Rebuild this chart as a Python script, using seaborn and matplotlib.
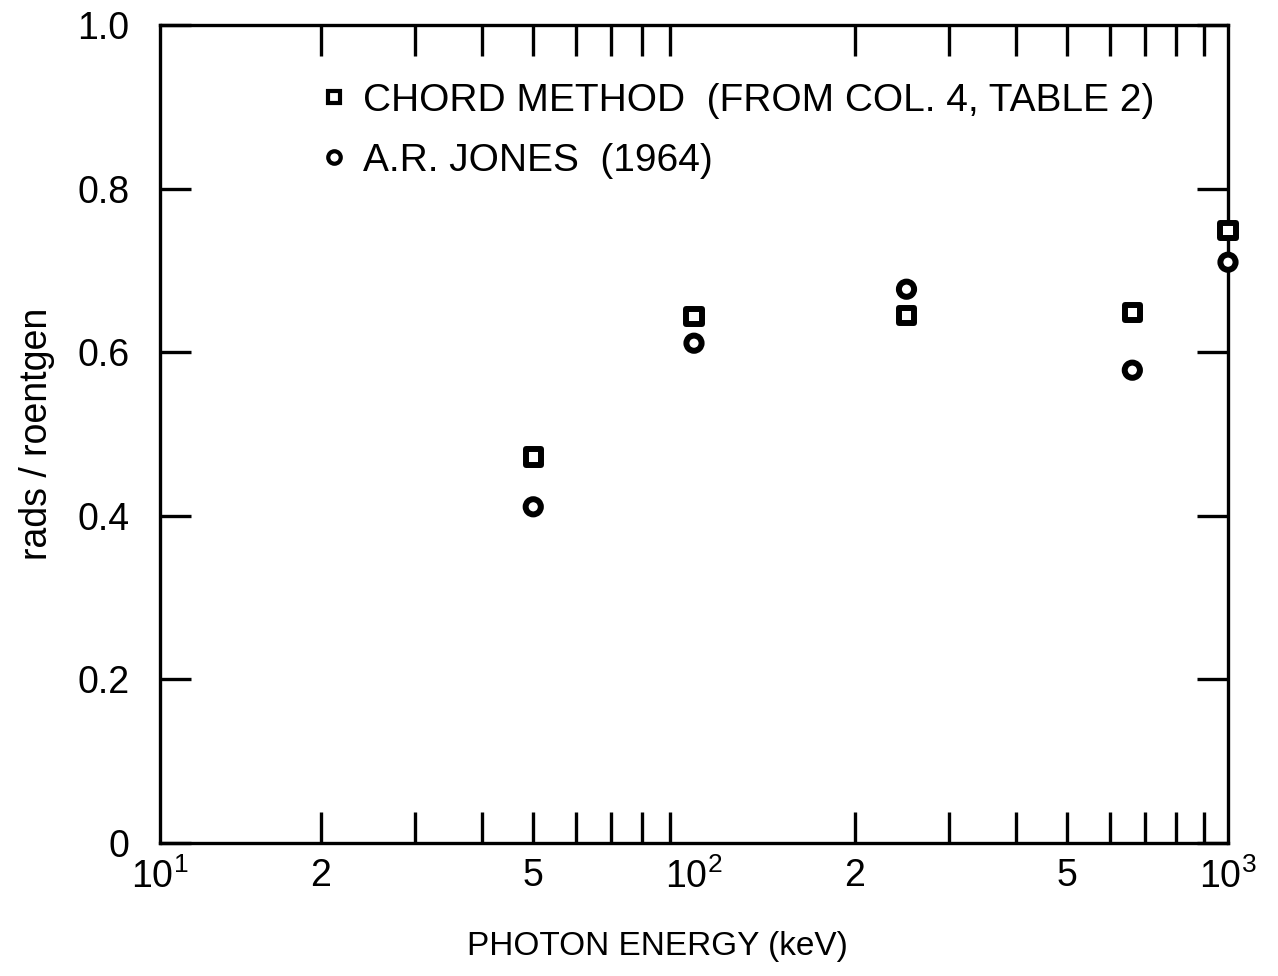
import matplotlib
matplotlib.use("Agg")
import matplotlib.pyplot as plt
import seaborn as sns
import pandas as pd
from matplotlib.lines import Line2D

# ---- data ----
energy_kev = [50, 100, 250, 662, 1000]
chord_method = [0.472, 0.644, 0.645, 0.649, 0.749]
jones_1964 = [0.411, 0.611, 0.677, 0.578, 0.710]

series_names = ["CHORD METHOD  (FROM COL. 4, TABLE 2)", "A.R. JONES  (1964)"]

xtick_vals = [10, 20, 50, 100, 200, 500, 1000]
xtick_labels = [r"$\mathregular{10^1}$", "2", "5", r"$\mathregular{10^2}$", "2", "5", r"$\mathregular{10^3}$"]
xminor_vals = [20, 30, 40, 50, 60, 70, 80, 90, 200, 300, 400, 500, 600, 700, 800, 900]
ytick_vals = [0, 0.2, 0.4, 0.6, 0.8, 1.0]
ytick_labels = ["0", "0.2", "0.4", "0.6", "0.8", "1.0"]

df = pd.DataFrame({
    "energy": energy_kev * 2,
    "value": chord_method + jones_1964,
    "series": [series_names[0]] * len(energy_kev) + [series_names[1]] * len(energy_kev),
})

sns.set_style("ticks")
plt.rcParams["font.family"] = ["Liberation Sans", "DejaVu Sans"]
plt.rcParams["mathtext.fontset"] = "custom"
plt.rcParams["mathtext.rm"] = "Liberation Sans"
plt.rcParams["mathtext.it"] = "Liberation Sans:italic"
plt.rcParams["mathtext.bf"] = "Liberation Sans:bold"
for key in ["text.color", "axes.labelcolor", "xtick.color", "ytick.color", "axes.edgecolor"]:
    plt.rcParams[key] = "black"

fig = plt.figure(figsize=(12.78, 9.76), dpi=100)
ax = fig.add_axes([160 / 1278, 1 - 843 / 976, (1228 - 160) / 1278, (843 - 25) / 976])

sns.scatterplot(
    data=df, x="energy", y="value", style="series",
    markers={series_names[0]: "s", series_names[1]: "o"},
    s=120, facecolor="white", edgecolor="black", linewidth=4.3,
    legend=False, ax=ax, zorder=5, clip_on=False,
)

ax.set_xscale("log")
ax.set_xlim(10, 1000)
ax.set_ylim(0, 1.0)

ax.xaxis.remove_overlapping_locs = False
ax.set_xticks(xtick_vals)
ax.set_xticklabels(xtick_labels)
ax.set_xticks(xminor_vals, minor=True)
ax.xaxis.set_minor_formatter(matplotlib.ticker.NullFormatter())
ax.set_yticks(ytick_vals)
ax.set_yticklabels(ytick_labels)
ax.yaxis.set_minor_locator(matplotlib.ticker.NullLocator())

for sp in ax.spines.values():
    sp.set_visible(True)
    sp.set_linewidth(2.4)
    sp.set_color("black")

ax.tick_params(axis="x", which="major", length=0, pad=11, labelsize=27, top=False)
ax.tick_params(axis="x", which="minor", direction="in", length=22, width=2.4,
               top=True, bottom=True, color="black")
ax.tick_params(axis="y", which="major", direction="in", length=22, width=2.4,
               left=True, right=True, pad=22, labelsize=27, color="black")

ax.set_xlabel("PHOTON ENERGY (keV)", fontsize=24)
ax.xaxis.set_label_coords((657 - 160) / 1068, -0.108)
ax.set_ylabel("rads / roentgen", fontsize=27)
ax.yaxis.set_label_coords(-0.098, 0.5)

handles = [
    Line2D([], [], linestyle="none", marker="s", markersize=9, markerfacecolor="white",
           markeredgecolor="black", markeredgewidth=3.0),
    Line2D([], [], linestyle="none", marker="o", markersize=9, markerfacecolor="white",
           markeredgecolor="black", markeredgewidth=3.0),
]
ax.legend(handles, series_names, loc="upper left",
          bbox_to_anchor=((322 - 160) / 1068, (843 - 83) / 818),
          frameon=False, fontsize=28, handlelength=0.6, handletextpad=0.45,
          labelspacing=0.62, borderpad=0, borderaxespad=0)

fig.savefig("out.png", dpi=100, facecolor="white")
